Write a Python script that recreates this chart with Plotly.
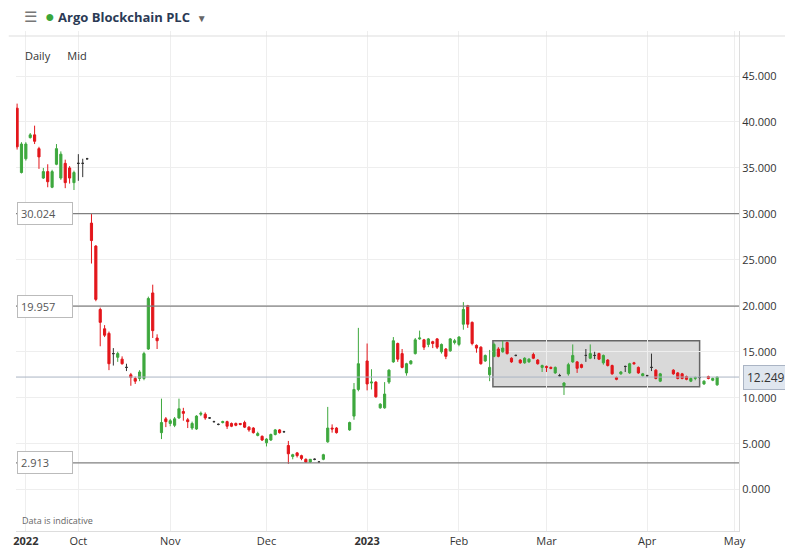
import pandas as pd
import plotly.graph_objects as go

# OHLC values (chronological order)
opens = [40.0,41.5,34.5,36.0,38.3,38.6,37.1,33.9,34.6,32.9,35.4,33.9,35.5,35.0,33.4,35.5,35.5,36.0,
         29.0,26.5,19.6,17.5,17.0,14.8,14.4,14.2,13.3,12.5,12.1,12.1,12.1,15.3,21.4,16.5,
         6.2,7.7,7.2,7.0,7.8,8.5,7.6,6.7,6.6,8.2,8.2,7.8,7.4,7.1,7.3,7.4,7.2,7.2,7.2,7.3,6.8,6.7,
         5.9,5.8,5.1,5.4,6.0,6.5,6.3,4.8,3.6,4.0,3.7,3.3,3.0,3.3,3.0,3.3,5.2,6.7,6.7,6.5,
         8.0,10.9,14.0,11.6,11.7,8.9,8.9,11.7,13.9,15.9,14.8,12.7,13.7,14.8,16.4,16.3,15.8,16.1,16.4,
         15.0,15.3,15.1,16.0,15.8,18.0,20.0,18.2,15.7,15.5,14.0,
         12.5,14.5,15.3,15.0,16.0,14.3,14.6,14.1,13.8,13.9,14.7,14.1,13.3,13.4,13.3,12.7,12.4,11.3,
         12.6,13.9,13.9,13.6,14.6,14.3,14.6,14.8,13.8,14.1,13.5,12.2,12.6,13.4,12.7,13.8,13.3,12.4,
         12.4,13.3,13.0,11.8,13.0,12.7,12.6,12.3,11.8,12.1,12.2,11.5,12.3,11.9,11.4]
highs = [43.0,42.0,37.8,37.8,38.8,39.6,37.3,35.0,35.4,34.8,37.6,36.8,35.9,35.2,34.7,36.5,36.0,36.1,
         30.0,26.6,19.8,17.9,17.2,15.4,15.0,14.5,13.7,12.7,12.3,13.0,15.0,21.0,22.3,16.9,
         9.9,7.9,7.7,7.9,9.9,8.9,7.8,7.4,8.1,8.5,8.4,7.9,7.5,7.2,7.5,7.5,7.3,7.3,7.2,7.5,6.9,6.8,
         6.3,5.9,5.6,6.1,6.6,6.6,6.4,5.3,3.9,4.1,3.8,3.4,3.3,3.4,3.1,3.9,9.0,7.1,6.8,7.4,
         11.6,17.6,15.9,13.1,11.8,9.4,11.7,13.1,16.6,16.0,15.3,13.8,14.1,16.5,17.3,16.4,16.5,16.2,16.5,
         15.9,15.4,16.5,16.4,16.7,20.4,20.1,18.3,15.8,15.6,14.7,
         15.2,16.0,15.5,16.2,16.1,14.4,14.7,14.2,14.4,14.3,14.9,14.2,13.6,13.5,13.4,13.4,12.6,11.7,
         13.8,15.8,14.0,13.7,15.3,15.8,15.0,14.9,14.7,14.2,13.6,12.3,12.9,13.5,13.8,13.9,13.4,12.7,
         12.5,14.8,13.1,12.7,13.1,12.8,12.7,12.4,12.2,12.3,12.3,11.9,12.4,12.2,12.3]
lows = [39.8,37.0,34.4,35.8,38.2,37.6,34.9,33.8,32.9,32.8,35.3,33.7,32.8,33.3,32.6,33.6,34.0,35.9,
        24.6,20.5,15.6,16.6,13.0,13.5,13.9,13.6,12.9,11.3,11.5,11.8,11.9,15.2,16.5,15.3,
        5.5,6.8,6.9,6.8,7.7,7.5,6.7,6.5,6.5,8.0,7.6,7.7,7.3,7.0,7.2,6.6,6.8,6.9,7.0,6.7,6.3,6.1,
        5.8,5.3,4.7,5.3,5.9,6.1,6.2,2.8,3.3,3.5,3.2,2.9,2.9,3.2,2.9,3.2,5.1,6.2,6.1,6.4,
        7.6,10.7,10.8,10.9,10.0,8.8,8.8,11.5,13.8,13.9,13.2,12.4,13.6,14.7,16.3,15.2,15.5,15.4,15.3,
        14.8,14.2,15.0,15.8,15.6,17.4,17.6,15.7,14.9,13.6,13.9,
        11.8,14.4,14.4,14.9,14.7,13.8,14.5,13.7,13.7,13.8,14.2,13.6,12.8,12.8,13.1,12.6,12.3,10.3,
        12.4,13.8,12.7,13.2,13.9,14.2,14.2,14.1,13.6,13.4,12.5,11.9,12.5,12.8,12.6,13.6,12.6,12.3,
        12.3,12.9,12.0,11.7,12.5,12.0,12.0,11.9,11.7,11.9,12.1,11.4,12.0,11.8,11.3]
closes = [41.5,37.3,37.6,37.6,38.6,37.9,36.2,34.6,33.5,34.6,37.1,36.5,33.4,33.9,34.5,35.5,35.5,36.0,
          27.1,20.7,18.2,16.8,13.7,14.8,14.8,13.7,13.3,12.2,11.8,12.8,14.8,20.8,17.3,16.2,
          7.3,7.4,7.5,7.7,8.8,8.3,7.4,7.2,8.0,8.3,7.8,7.8,7.4,7.1,7.4,6.9,6.9,7.0,7.1,6.8,6.5,6.2,
          6.1,5.4,5.5,6.0,6.5,6.2,6.3,3.9,3.8,3.7,3.4,3.0,3.3,3.3,3.0,3.8,6.7,6.6,6.2,7.3,
          10.9,13.7,11.5,11.7,10.1,9.3,10.4,13.0,16.2,14.2,13.3,13.7,14.0,16.3,16.5,15.5,16.4,15.9,15.5,
          15.8,14.5,16.4,16.2,16.6,19.6,18.0,15.9,15.4,13.7,14.6,
          13.3,15.8,14.5,15.4,14.8,13.9,14.6,13.8,14.3,14.2,14.3,13.7,13.5,13.3,13.2,13.3,12.4,11.6,
          13.6,14.6,13.2,13.3,14.6,14.8,14.6,14.2,14.6,13.5,12.6,12.0,12.8,13.4,13.7,13.7,12.7,12.6,
          12.4,13.3,12.1,12.6,12.6,12.1,12.1,12.0,12.1,12.2,12.2,11.8,12.1,12.1,12.249]

uk_holidays = ["2022-12-26", "2022-12-27", "2023-01-02", "2023-04-07", "2023-04-10"]
bdays = pd.bdate_range("2022-09-12", "2023-05-10")
dates = [d for d in bdays if d.strftime("%Y-%m-%d") not in uk_holidays][:len(opens)]

levels = [30.024, 19.957, 2.913]
last_price = 12.249
tick_vals = ["2022-09-15", "2022-10-03", "2022-11-01", "2022-12-01", "2023-01-03",
             "2023-02-01", "2023-03-01", "2023-04-03", "2023-05-01"]
tick_text = ["<b>2022</b>", "Oct", "Nov", "Dec", "<b>2023</b>", "Feb", "Mar", "Apr", "May"]

doji = [abs(o - c) < 1e-9 for o, c in zip(opens, closes)]
def sel(arr, keep):
    return [a for a, k in zip(arr, doji) if k == keep]

GREEN, RED = "#3ea83e", "#e3161b"
fig = go.Figure()
fig.add_trace(go.Candlestick(
    x=sel(dates, False), open=sel(opens, False), high=sel(highs, False),
    low=sel(lows, False), close=sel(closes, False),
    increasing=dict(line=dict(color=GREEN, width=1), fillcolor=GREEN),
    decreasing=dict(line=dict(color=RED, width=1), fillcolor=RED),
    whiskerwidth=0, showlegend=False))
fig.add_trace(go.Candlestick(
    x=sel(dates, True), open=sel(opens, True), high=sel(highs, True),
    low=sel(lows, True), close=sel(closes, True),
    increasing=dict(line=dict(color="#333333", width=1), fillcolor="#333333"),
    decreasing=dict(line=dict(color="#333333", width=1), fillcolor="#333333"),
    whiskerwidth=0, showlegend=False))

fig.add_shape(type="rect", x0="2023-02-10 18:00", x1="2023-04-19", y0=11.2, y1=16.2,
              xref="x", yref="y", fillcolor="rgba(160,160,160,0.4)",
              line=dict(color="#666666", width=1.5), layer="below")

for lv in levels:
    fig.add_shape(type="line", xref="paper", x0=0, x1=1, yref="y", y0=lv, y1=lv,
                  line=dict(color="#808080", width=1.3))
    fig.add_annotation(xref="paper", x=0.002, yref="y", y=lv, text=f"{lv:.3f}",
                       showarrow=False, xanchor="left", font=dict(size=11, color="#555"),
                       bgcolor="white", bordercolor="#bbbbbb", borderwidth=1, borderpad=3,
                       width=48, align="left")
fig.add_shape(type="line", xref="paper", x0=0, x1=1, yref="y", y0=last_price, y1=last_price,
              line=dict(color="#aab4c4", width=1))
fig.add_annotation(xref="paper", x=1.005, yref="y", y=last_price, text=f"{last_price:.3f}",
                   showarrow=False, xanchor="left", font=dict(size=12, color="#333"),
                   bgcolor="#dfe6ef", bordercolor="#aab4c4", borderwidth=1, borderpad=3)

# header
fig.add_shape(type="line", xref="paper", yref="paper", x0=-0.01, x1=1.1, y0=0.99, y1=0.99,
              line=dict(color="#dddddd", width=1))
fig.add_annotation(xref="paper", yref="paper", x=0.008, y=1.03, text="☰", showarrow=False,
                   xanchor="left", yanchor="middle", font=dict(size=15, color="#777"))
fig.add_annotation(xref="paper", yref="paper", x=0.038, y=1.03,
                   text="<span style='color:#3aa63a;font-size:16px'>●</span> <b>Argo Blockchain PLC</b>  <span style='color:#666;font-size:10px'>▼</span>",
                   showarrow=False, xanchor="left", yanchor="middle",
                   font=dict(size=13, color="#2b3a55"))
fig.add_annotation(xref="paper", yref="paper", x=0.01, y=0.97, text="Daily      Mid",
                   showarrow=False, xanchor="left", font=dict(size=11, color="#333"))
fig.add_annotation(xref="paper", yref="paper", x=0.005, y=0.005, text="Data is indicative",
                   showarrow=False, xanchor="left", yanchor="bottom",
                   font=dict(size=9, color="#666"))

fig.update_layout(
    width=793, height=555, margin=dict(l=5, r=62, t=23, b=32),
    plot_bgcolor="white", paper_bgcolor="white",
    font=dict(family="Open Sans, Arial", color="#333"),
    xaxis=dict(type="date", range=["2022-09-12 18:00", "2023-05-02"],
               rangebreaks=[dict(bounds=["sat", "mon"])],
               rangeslider=dict(visible=False), tickvals=tick_vals, ticktext=tick_text,
               showgrid=True, gridcolor="#eeeeee", ticks="", tickfont=dict(size=11),
               showline=True, linecolor="#dddddd"),
    yaxis=dict(side="right", range=[-4.5, 49.9], tickvals=[0, 5, 10, 15, 20, 25, 30, 35, 40, 45],
               tickformat=".3f", showgrid=True, gridcolor="#eeeeee", zeroline=False,
               tickfont=dict(size=11), ticks="", showline=True, linecolor="#dddddd"),
)
fig.write_html("out.html")
